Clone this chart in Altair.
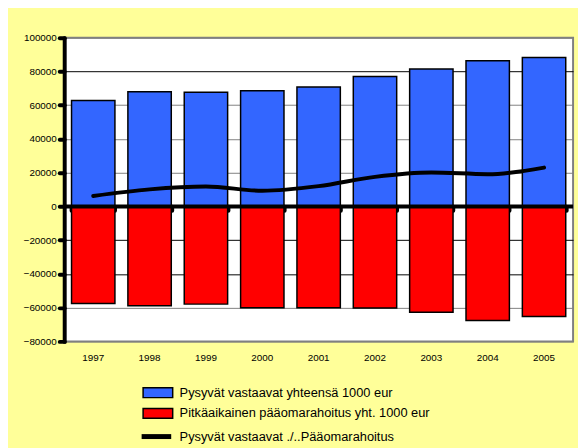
import altair as alt
import pandas as pd

years = ["1997", "1998", "1999", "2000", "2001", "2002", "2003", "2004", "2005"]
assets = [62700, 68000, 67700, 68500, 70800, 77000, 81500, 86300, 88300]
financing = [-57500, -58900, -57900, -60000, -60000, -60200, -62700, -67600, -65300]
difference = [6200, 10100, 11800, 9300, 12000, 17500, 20100, 19100, 23000]

s_assets = "Pysyvät vastaavat yhteensä 1000 eur"
s_fin = "Pitkäaikainen pääomarahoitus yht. 1000 eur"
s_diff = "Pysyvät vastaavat ./..Pääomarahoitus"
y_ticks = [-80000, -60000, -40000, -20000, 0, 20000, 40000, 60000, 80000, 100000]

FONT = "Liberation Sans"

bars_df = pd.DataFrame({
    "year": years * 2,
    "value": assets + financing,
    "series": [s_assets] * len(years) + [s_fin] * len(years),
})
line_df = pd.DataFrame({"year": years, "value": difference, "series": [s_diff] * len(years)})

xscale = alt.Scale(domain=years, paddingInner=0.23, paddingOuter=0.13)
yscale = alt.Scale(domain=[-80000, 100000], nice=False, zero=False)

y_axis = alt.Axis(title=None, values=y_ticks, format="d", labelOverlap=False, tickCount=10,
                  domain=True, domainColor="black", domainWidth=4, domainCap="round",
                  ticks=True, tickColor="black", tickWidth=4, tickSize=5, tickCap="round",
                  labelFont=FONT, labelFontSize=10, labelColor="black", labelPadding=3,
                  grid=True, gridWidth=1,
                  gridColor={"condition": {"test": "datum.value === 80000 || datum.value === -20000 || datum.value === -40000",
                                           "value": "black"},
                             "value": "#808080"})

bars = alt.Chart(bars_df).mark_bar(stroke="black", strokeWidth=1.5).encode(
    x=alt.X("year:N", scale=xscale, sort=years,
            axis=alt.Axis(title=None, domain=False, ticks=False, tickSize=0, labelAngle=0,
                          labelFont=FONT, labelFontSize=10, labelColor="black", labelPadding=11)),
    y=alt.Y("value:Q", scale=yscale, stack=None, axis=y_axis),
    fill=alt.Fill("series:N", scale=alt.Scale(domain=[s_assets, s_fin], range=["#3366FF", "#FF0000"]),
                  legend=alt.Legend(orient="none", legendX=84, legendY=349, title=None,
                                    symbolType="M-1.5,-0.5L1.5,-0.5L1.5,0.5L-1.5,0.5Z",
                                    symbolSize=400, symbolStrokeColor="black", symbolStrokeWidth=1.5,
                                    symbolOpacity=1,
                                    labelFont=FONT, labelFontSize=13, labelColor="black",
                                    labelOffset=11, labelLimit=500, rowPadding=2, padding=0)),
)

zero = alt.Chart(pd.DataFrame({"value": [0]})).mark_rule(color="black", strokeWidth=4).encode(
    y=alt.Y("value:Q", scale=yscale, axis=y_axis)
)

line = alt.Chart(line_df).mark_line(strokeWidth=4, interpolate="monotone", strokeCap="round").encode(
    x=alt.X("year:N", scale=xscale, sort=years,
            axis=alt.Axis(title=None, orient="bottom", offset=-137, domain=False, labels=False,
                          ticks=True, tickBand="extent", tickSize=4, tickWidth=4, tickColor="black",
                          tickCap="round", grid=False)),
    y=alt.Y("value:Q", scale=yscale, axis=y_axis),
    stroke=alt.Stroke("series:N", scale=alt.Scale(domain=[s_diff], range=["black"]),
                      legend=alt.Legend(orient="none", legendX=76, legendY=387, title=None,
                                        symbolType="stroke", symbolSize=900, symbolStrokeWidth=5,
                                        labelFont=FONT, labelFontSize=13, labelColor="black",
                                        labelOffset=6, labelLimit=500, padding=0)),
)

chart = alt.layer(bars, zero, line).resolve_axis(x="independent").resolve_legend(
    fill="independent", stroke="independent"
).properties(
    width=516, height=308,
    autosize=alt.AutoSizeParams(type="none"),
    padding={"left": 57, "top": 27, "right": 5, "bottom": 105},
    background="#FFFF99",
).configure_view(fill="white", stroke="#808080", strokeWidth=2)

chart.save("out.html", embed_options={"renderer": "svg", "actions": False})
